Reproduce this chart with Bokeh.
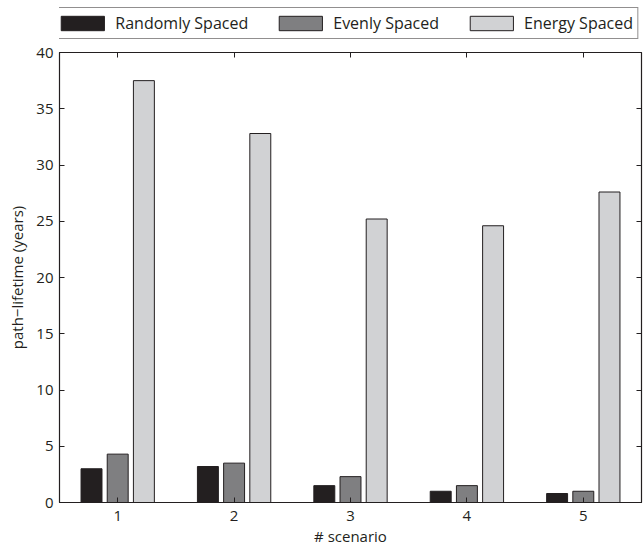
from bokeh.plotting import figure
from bokeh.layouts import column
from bokeh.models import ColumnDataSource, Legend, LegendItem, LinearAxis, FixedTicker, Range1d
from bokeh.transform import dodge
from bokeh.embed import file_html
from bokeh.resources import INLINE

scenarios = [1, 2, 3, 4, 5]
randomly_spaced = [3.0, 3.2, 1.5, 1.0, 0.8]
evenly_spaced = [4.3, 3.5, 2.3, 1.5, 1.0]
energy_spaced = [37.5, 32.8, 25.2, 24.6, 27.6]
series_names = ["Randomly Spaced", "Evenly Spaced", "Energy Spaced"]
y_ticks = [0, 5, 10, 15, 20, 25, 30, 35, 40]

FONT = "Open Sans"
INK = "#231f20"
cols = ["#231f20", "#7f7f81", "#d1d2d4"]

src = ColumnDataSource(dict(x=scenarios, r=randomly_spaced, e=evenly_spaced, g=energy_spaced))

LEG_H = 42
p = figure(width=644, height=548 - LEG_H, output_backend="svg", toolbar_location=None,
           x_range=Range1d(0.5, 5.5), y_range=Range1d(0, 40),
           min_border_left=59, min_border_top=10, min_border_right=3, min_border_bottom=45)

fields = ["r", "e", "g"]
offs = [-0.225, 0.0, 0.225]
for f, c, o in zip(fields, cols, offs):
    p.vbar(x=dodge("x", o), top=f, width=0.18, bottom=0, source=src,
           fill_color=c, line_color=INK, line_width=1)

p.xgrid.visible = False
p.ygrid.visible = False
p.outline_line_color = INK
p.outline_line_width = 1.2

for ax in [p.xaxis[0], p.yaxis[0]]:
    ax.major_tick_in = 5
    ax.major_tick_out = 0
    ax.minor_tick_line_color = None
    ax.axis_line_color = INK
    ax.major_tick_line_color = INK
    ax.major_label_text_font = FONT
    ax.major_label_text_font_size = "15px"
    ax.major_label_text_color = INK
    ax.axis_label_text_font = FONT
    ax.axis_label_text_font_size = "15px"
    ax.axis_label_text_font_style = "normal"
    ax.axis_label_text_color = INK

p.xaxis[0].ticker = FixedTicker(ticks=scenarios)
p.yaxis[0].ticker = FixedTicker(ticks=y_ticks)
p.xaxis[0].axis_label = "# scenario"
p.yaxis[0].axis_label = "path\u2212lifetime (years)"
p.xaxis[0].axis_label_standoff = 2
p.yaxis[0].axis_label_standoff = 6
p.xaxis[0].major_label_standoff = 8
p.yaxis[0].major_label_standoff = 6

top_ax = LinearAxis(ticker=FixedTicker(ticks=scenarios), major_label_text_font_size="0px",
                    major_tick_in=5, major_tick_out=0, minor_tick_line_color=None,
                    axis_line_color=None, major_tick_line_color=INK, major_label_text_alpha=0)
right_ax = LinearAxis(ticker=FixedTicker(ticks=y_ticks), major_label_text_font_size="0px",
                      major_tick_in=5, major_tick_out=0, minor_tick_line_color=None,
                      axis_line_color=None, major_tick_line_color=INK, major_label_text_alpha=0)
p.add_layout(top_ax, "above")
p.add_layout(right_ax, "right")

# legend strip above the plot (key glyphs are proxies placed outside the visible range)
lg = figure(width=644, height=LEG_H, output_backend="svg", toolbar_location=None,
            x_axis_location=None, y_axis_location=None,
            min_border_left=0, min_border_right=0, min_border_top=4, min_border_bottom=0,
            x_range=Range1d(0, 1), y_range=Range1d(0, 1))
lg.outline_line_color = None
lg.xgrid.visible = False
lg.ygrid.visible = False
keys = []
for c in cols:
    keys.append(lg.vbar(x=[-5], top=[-5], bottom=[-6], width=0.1,
                        fill_color=c, line_color=INK, line_width=1))

legend = Legend(items=[LegendItem(label=n, renderers=[r]) for n, r in zip(series_names, keys)],
                orientation="horizontal", location="top_right",
                glyph_width=54, glyph_height=18, label_standoff=6, spacing=25,
                padding=4, margin=3, label_height=18,
                label_text_font=FONT, label_text_font_size="16px", label_text_color=INK,
                border_line_color=INK, border_line_width=1.2,
                background_fill_alpha=1)
lg.add_layout(legend, "center")

layout = column(lg, p, spacing=0)
open("out.html", "w").write(file_html(layout, INLINE))
